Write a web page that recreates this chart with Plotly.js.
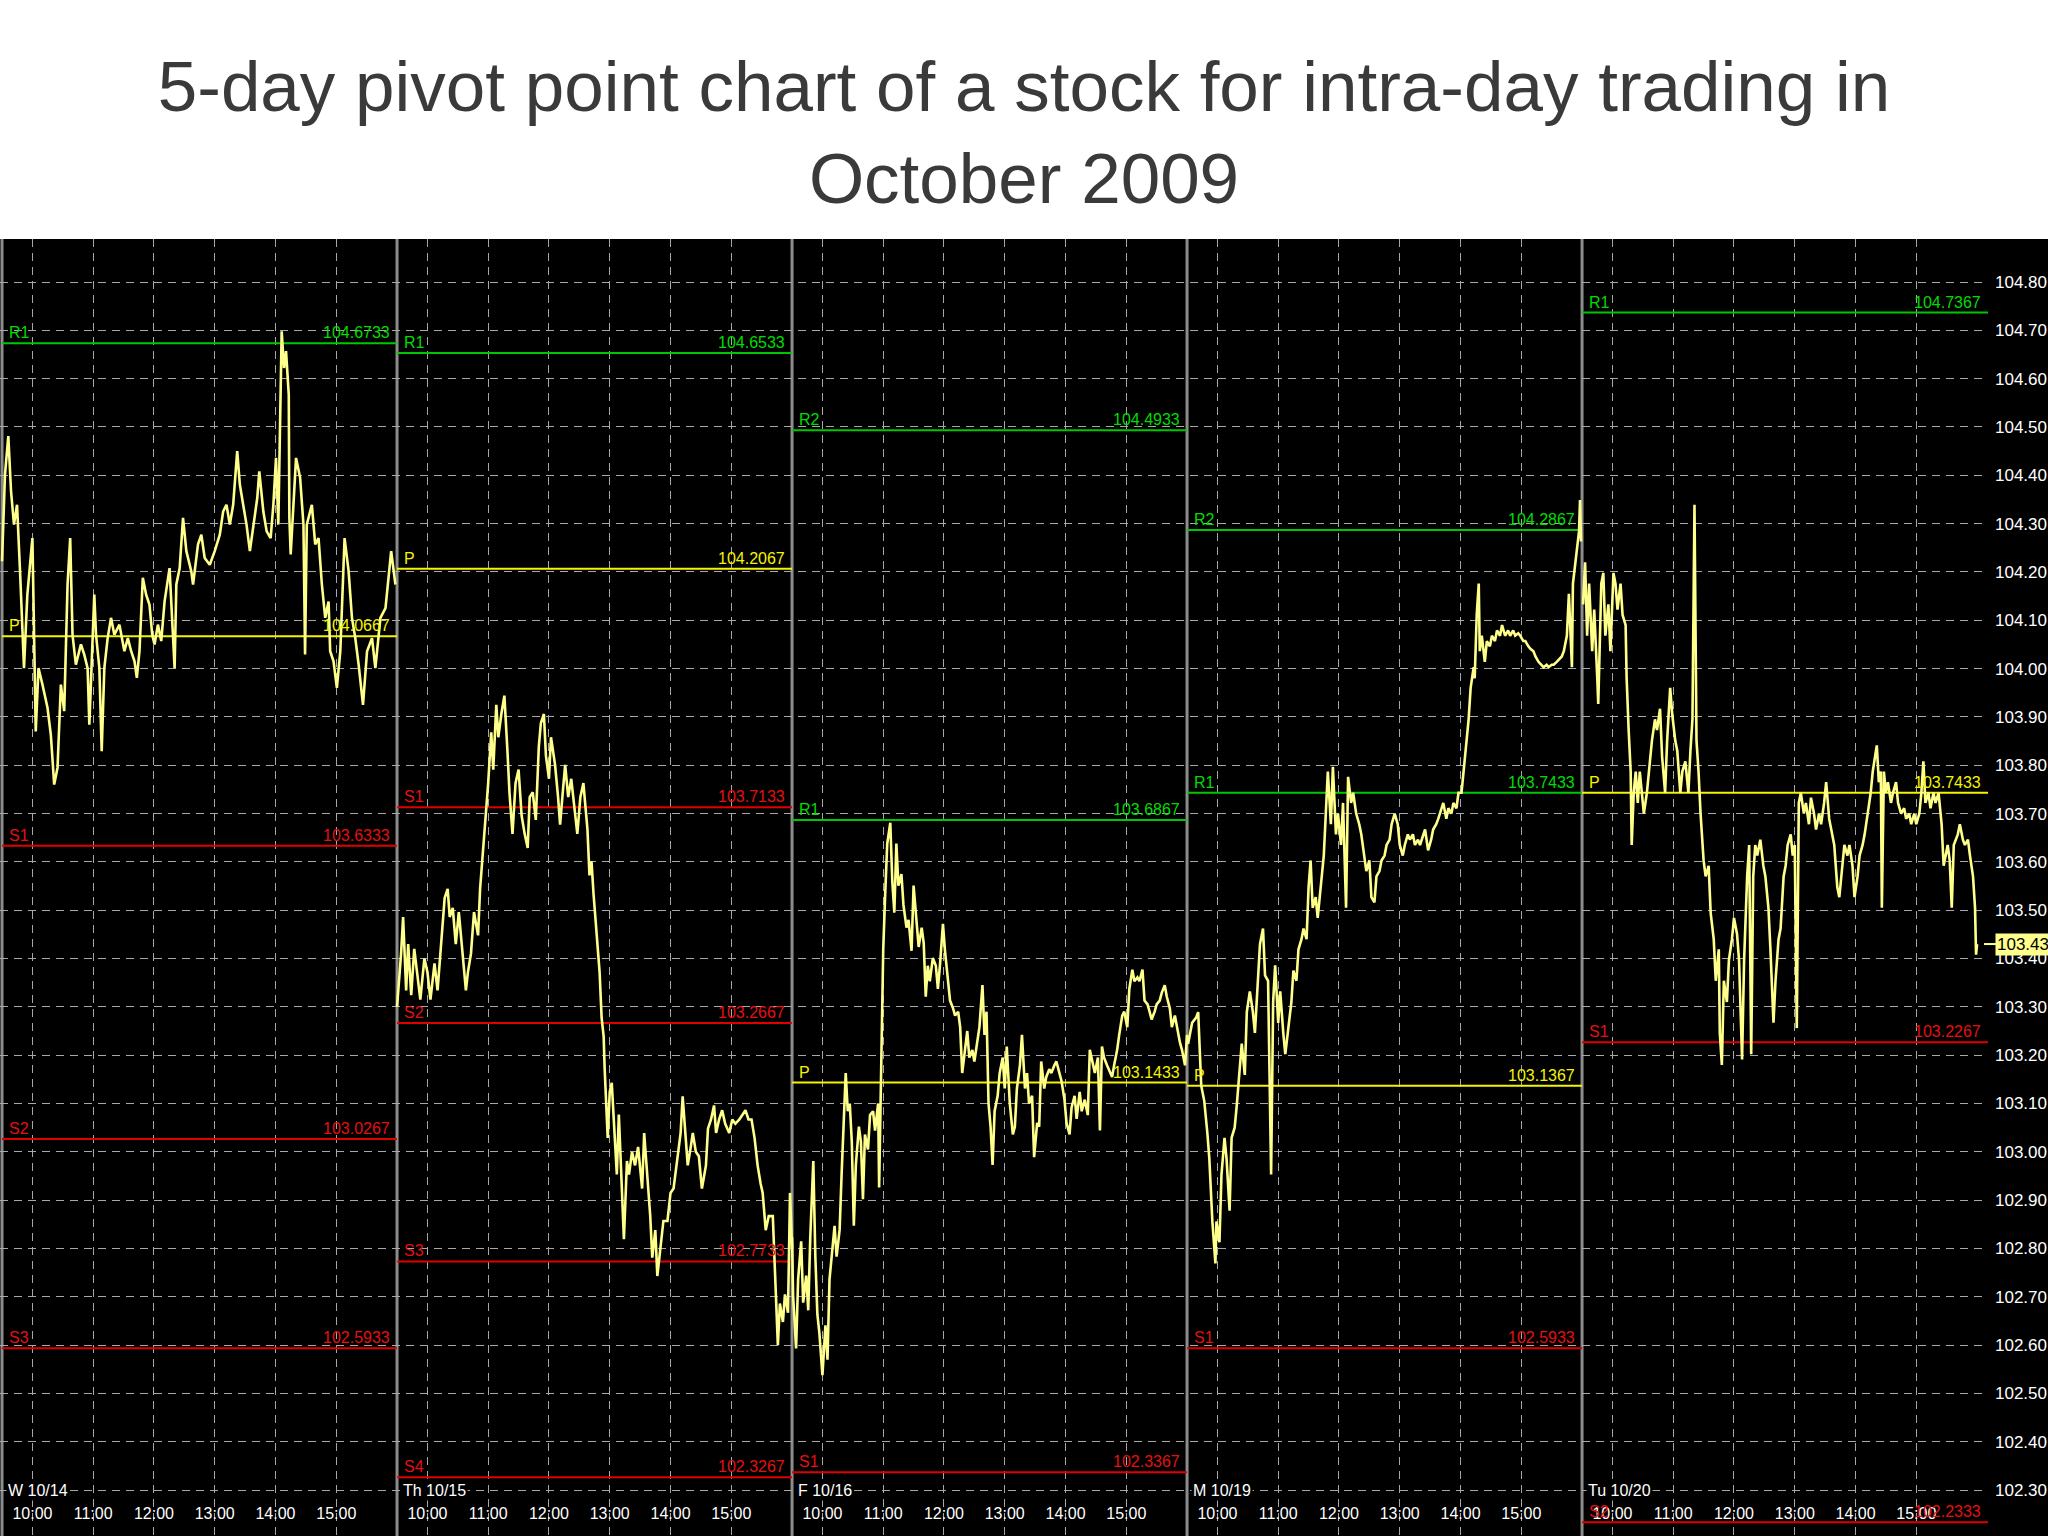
<!DOCTYPE html>
<html>
<head>
<meta charset="utf-8">
<script src="https://cdn.plot.ly/plotly-3.0.1.min.js"></script>
<style>
html,body{margin:0;padding:0;background:#ffffff;}
#chart{width:2048px;height:1536px;}
</style>
</head>
<body>
<div id="chart"></div>
<script>
// ---------------- data ----------------
const chartTitle = '5-day pivot point chart of a stock for intra-day trading in<br>October 2009';
const dayLabels = ['W 10/14', 'Th 10/15', 'F 10/16', 'M 10/19', 'Tu 10/20'];
const sessionMinutes = 390;                       // 9:30 - 16:00
const hourTickMinutes = [30, 90, 150, 210, 270, 330];
const hourTickText = ['10:00', '11:00', '12:00', '13:00', '14:00', '15:00'];

// pivot levels per day
const lv1Name = ['R1', 'P', 'S1', 'S2', 'S3'];
const lv1Val  = [104.6733, 104.0667, 103.6333, 103.0267, 102.5933];
const lv2Name = ['R1', 'P', 'S1', 'S2', 'S3', 'S4'];
const lv2Val  = [104.6533, 104.2067, 103.7133, 103.2667, 102.7733, 102.3267];
const lv3Name = ['R2', 'R1', 'P', 'S1'];
const lv3Val  = [104.4933, 103.6867, 103.1433, 102.3367];
const lv4Name = ['R2', 'R1', 'P', 'S1'];
const lv4Val  = [104.2867, 103.7433, 103.1367, 102.5933];
const lv5Name = ['R1', 'P', 'S1', 'S2'];
const lv5Val  = [104.7367, 103.7433, 103.2267, 102.2333];

// intraday prices: minutes after 9:30 and price
const d1t = [0,2.9,6.2,8.9,11.8,14.8,17.8,21.7,25.0,30.0,
33.3,36.0,39.9,44.9,48.2,51.5,54.8,58.1,61.4,64.7,
67.3,69.6,72.9,77.9,81.2,84.5,86.2,91.1,92.8,96.1,
98.4,101.0,104.3,107.6,110.9,115.9,120.8,124.2,127.5,130.8,
133.1,135.7,139.0,142.3,145.6,148.3,150.6,153.9,157.2,160.5,
165.4,170.4,172.1,175.4,178.7,182.0,186.9,188.6,193.5,196.8,
200.1,205.1,210.0,215.0,218.3,221.6,224.9,228.2,232.2,234.8,
238.1,241.4,244.7,248.0,252.0,254.0,258.0,261.3,265.2,267.9,
270.5,272.8,276.1,278.4,280.4,283.1,283.7,285.0,290.3,294.3,
297.6,299.2,300.9,305.9,309.2,312.5,315.8,319.1,322.4,324.0,
327.3,330.6,334.0,338.2,342.2,345.5,348.8,352.1,356.4,360.4,
365.3,368.6,373.6,378.6,381.8,384.2,388.4];
const d1p = [104.222,104.401,104.481,104.367,104.298,104.339,104.201,104.001,104.153,104.270,
103.870,104.001,103.967,103.919,103.863,103.760,103.795,103.967,103.912,104.174,
104.270,104.070,104.008,104.050,104.029,104.001,103.884,104.153,104.070,104.001,
103.829,104.001,104.063,104.105,104.070,104.091,104.036,104.063,104.036,104.015,
103.981,104.036,104.188,104.153,104.132,104.070,104.050,104.091,104.057,104.139,
104.208,104.001,104.174,104.208,104.312,104.243,104.201,104.174,104.257,104.277,
104.229,104.215,104.243,104.277,104.325,104.339,104.298,104.339,104.450,104.381,
104.339,104.298,104.243,104.298,104.353,104.408,104.325,104.284,104.270,104.339,
104.436,104.298,104.698,104.622,104.657,104.567,104.312,104.236,104.436,104.395,
104.298,104.029,104.298,104.339,104.257,104.270,104.174,104.105,104.139,104.036,
104.015,103.960,104.036,104.270,104.201,104.105,104.063,104.008,103.925,104.036,
104.063,104.001,104.105,104.125,104.188,104.243,104.174];

const d2t = [0,4,6,9,11,14,17,20,23,27,
30,33,37,40,43,47,50,52,55,58,
61,65,68,70,73,76,80,82,85,87,
90,93,95,98,100,103,106,109,111,114,
117,120,123,126,129,131,134,137,140,142,
145,147,150,152,156,159,161,164,166,169,
172,175,178,181,184,186,188,190,192,194,
197,199,200,202,204,205,208,210,212,215,
217,219,222,224,227,229,232,235,238,242,
244,247,250,252,255,257,260,263,267,270,
273,276,280,282,285,287,290,292,295,298,
301,305,307,310,313,315,318,321,324,328,
331,334,338,341,344,347,350,353,356,359,
361,364,367,371,373,376,378,381,383,386,
388,390];
const d2p = [103.30,103.41,103.486,103.334,103.43,103.324,103.42,103.372,103.315,103.40,
103.372,103.315,103.39,103.334,103.41,103.525,103.544,103.486,103.505,103.43,
103.496,103.41,103.334,103.372,103.41,103.496,103.448,103.544,103.62,103.687,
103.763,103.868,103.791,103.925,103.858,103.906,103.944,103.83,103.744,103.658,
103.763,103.791,103.696,103.658,103.629,103.734,103.744,103.687,103.839,103.887,
103.906,103.82,103.772,103.858,103.801,103.734,103.677,103.753,103.801,103.734,
103.772,103.715,103.658,103.734,103.763,103.715,103.667,103.572,103.601,103.534,
103.458,103.41,103.372,103.277,103.239,103.172,103.029,103.124,103.143,103.029,
102.953,103.077,102.905,102.819,102.981,102.953,103.0,102.972,103.01,102.924,
103.039,102.953,102.867,102.781,102.838,102.743,102.80,102.857,102.857,102.915,
102.924,102.972,103.039,103.115,103.029,102.972,103.01,103.039,103.0,102.991,
102.924,102.972,103.048,103.067,103.096,103.039,103.067,103.086,103.058,103.039,
103.067,103.058,103.067,103.077,103.086,103.067,103.067,103.029,102.972,102.934,
102.915,102.838,102.867,102.867,102.762,102.60,102.686,102.648,102.705,102.667,
102.915,102.80];

const d3t = [0,1,4,6,9,11,14,16,18,21,
23,25,27,30,33,35,37,39,42,44,
47,49,51,53,55,57,59,61,63,66,
68,70,72,75,77,80,82,85,86,88,
90,92,94,97,99,101,103,105,108,110,
113,115,118,120,123,125,128,130,132,134,
136,139,142,144,146,149,151,154,156,159,
161,164,166,168,170,173,175,178,180,183,
185,188,190,192,194,196,198,200,203,205,
208,210,212,215,218,220,222,225,227,230,
232,234,237,239,242,244,246,249,251,254,
256,259,261,264,266,269,271,274,276,279,
281,284,286,289,292,294,297,299,302,304,
306,308,311,314,316,318,321,323,326,328,
331,333,336,338,341,343,346,348,351,353,
355,358,360,363,365,368,370,373,375,378,
380,383,385,388,390];
const d3p = [102.823,102.704,102.593,102.736,102.815,102.688,102.744,102.672,102.823,102.981,
102.783,102.664,102.625,102.538,102.641,102.57,102.736,102.783,102.847,102.783,
102.839,102.957,103.06,103.163,103.084,103.1,103.021,102.847,102.973,103.052,
103.021,102.902,103.036,103.005,103.076,103.084,103.044,103.1,102.926,103.226,
103.416,103.535,103.638,103.681,103.559,103.495,103.638,103.551,103.575,103.511,
103.464,103.48,103.416,103.551,103.464,103.424,103.464,103.432,103.321,103.385,
103.353,103.401,103.385,103.337,103.385,103.472,103.416,103.345,103.313,103.297,
103.282,103.29,103.258,103.163,103.195,103.25,103.195,103.211,103.187,103.226,
103.258,103.345,103.242,103.29,103.1,103.052,102.973,103.084,103.116,103.163,
103.195,103.131,103.218,103.1,103.036,103.052,103.131,103.179,103.242,103.131,
103.163,103.1,103.116,102.989,103.06,103.052,103.187,103.131,103.155,103.171,
103.163,103.179,103.187,103.163,103.147,103.108,103.06,103.036,103.092,103.116,
103.068,103.124,103.084,103.108,103.076,103.211,103.179,103.163,103.195,103.044,
103.218,103.195,103.179,103.163,103.155,103.179,103.211,103.242,103.282,103.29,
103.258,103.337,103.377,103.353,103.361,103.353,103.377,103.313,103.305,103.29,
103.274,103.29,103.305,103.313,103.329,103.345,103.321,103.297,103.258,103.282,
103.258,103.226,103.211,103.179,103.242];

const d4t = [1,5,9,11,14,17,20,22,25,28,
29,32,34,37,39,42,44,47,49,52,
54,57,59,62,65,67,70,72,75,77,
80,81,83,85,87,90,92,95,97,100,
103,105,108,110,113,115,118,120,122,124,
127,129,132,135,137,139,142,144,147,149,
152,154,157,159,162,164,167,170,172,175,
177,180,182,185,187,190,192,195,197,200,
202,205,208,210,213,215,218,220,223,225,
228,230,233,235,238,241,243,246,248,251,
253,256,258,261,263,266,268,271,273,275,
278,280,283,284,286,288,289,291,294,296,
299,301,304,306,309,311,314,317,319,322,
324,327,329,332,334,337,339,342,344,347,
350,352,355,357,360,362,365,367,370,372,
375,377,378,380,381,383,385,387,388,389];
const d4p = [103.223,103.267,103.278,103.289,103.137,103.105,103.04,102.986,102.856,102.769,
102.856,102.813,102.953,103.029,102.986,102.878,103.029,103.05,103.094,103.17,
103.224,103.159,103.289,103.332,103.289,103.246,103.354,103.43,103.462,103.365,
103.354,103.224,102.953,103.31,103.386,103.267,103.332,103.246,103.202,103.256,
103.31,103.375,103.354,103.419,103.44,103.462,103.44,103.548,103.603,103.505,
103.527,103.484,103.548,103.613,103.7,103.787,103.678,103.797,103.657,103.7,
103.635,103.722,103.505,103.776,103.722,103.743,103.7,103.678,103.657,103.613,
103.581,103.603,103.527,103.516,103.57,103.581,103.603,103.613,103.635,103.646,
103.678,103.7,103.678,103.635,103.613,103.635,103.657,103.646,103.657,103.635,
103.646,103.635,103.657,103.667,103.624,103.646,103.667,103.678,103.689,103.711,
103.722,103.689,103.711,103.7,103.722,103.711,103.743,103.743,103.787,103.83,
103.895,103.96,104.003,103.98,104.111,104.176,104.036,104.068,104.014,104.057,
104.046,104.068,104.057,104.079,104.068,104.09,104.068,104.079,104.068,104.079,
104.068,104.073,104.068,104.057,104.057,104.046,104.041,104.036,104.025,104.014,
104.008,104.003,104.008,104.003,104.008,104.008,104.014,104.019,104.025,104.036,
104.068,104.155,104.09,104.003,104.176,104.209,104.241,104.284,104.349,104.263];

const d5t = [1,3,5,7,10,12,15,16,19,21,
23,26,28,31,33,35,38,40,43,44,
46,48,49,51,53,55,57,59,61,64,
66,69,72,74,77,79,82,84,87,89,
92,94,97,99,102,105,107,109,111,113,
115,117,120,122,125,127,130,132,135,136,
138,140,143,145,148,150,153,155,158,160,
163,165,167,169,171,173,176,179,181,184,
186,189,191,194,196,199,201,203,206,208,
210,212,214,216,219,221,224,226,229,231,
234,236,239,241,244,247,249,252,254,257,
259,262,264,267,269,272,274,277,279,282,
285,287,290,291,293,295,296,298,300,302,
305,307,310,312,315,318,320,323,325,328,
330,333,335,337,339,342,344,347,349,352,
355,357,359,361,363,365,367,369,371,373,
376,378,381,383,386,388,389,390];
const d5p = [104.133,104.22,104.068,104.176,104.036,104.122,103.981,103.927,104.176,104.198,
104.068,104.133,104.036,104.198,104.176,104.122,104.176,104.111,104.09,103.981,
103.873,103.787,103.635,103.743,103.787,103.722,103.787,103.743,103.7,103.743,
103.787,103.851,103.895,103.873,103.917,103.819,103.743,103.851,103.96,103.906,
103.851,103.83,103.743,103.787,103.808,103.743,103.83,103.895,104.339,103.851,
103.787,103.7,103.603,103.57,103.592,103.494,103.44,103.354,103.419,103.246,
103.18,103.354,103.31,103.397,103.44,103.484,103.451,103.397,103.191,103.397,
103.57,103.635,103.202,103.57,103.635,103.613,103.646,103.592,103.57,103.505,
103.419,103.267,103.354,103.44,103.462,103.57,103.592,103.635,103.657,103.613,
103.635,103.256,103.722,103.743,103.7,103.722,103.678,103.733,103.7,103.667,
103.7,103.678,103.722,103.765,103.689,103.657,103.635,103.548,103.527,103.592,
103.635,103.613,103.635,103.592,103.527,103.57,103.613,103.635,103.657,103.7,
103.743,103.787,103.83,103.841,103.765,103.787,103.505,103.787,103.743,103.765,
103.722,103.743,103.765,103.722,103.7,103.711,103.689,103.7,103.678,103.7,
103.678,103.7,103.743,103.808,103.722,103.743,103.711,103.743,103.722,103.743,
103.678,103.592,103.613,103.635,103.603,103.505,103.635,103.646,103.657,103.678,
103.646,103.635,103.646,103.613,103.57,103.505,103.408,103.43];

// ---------------- styling ----------------
const FONT = 'Liberation Sans, Arial, sans-serif';
const PRICE_COLOR = '#ffff8c';
const GRID_COLOR = '#a8a8a8';
const SEP_COLOR = '#8c8c8c';
const LEVEL_LINE = {R: '#00c800', P: '#f4f400', S: '#e00000'};
const LEVEL_TEXT = {R: '#00dc00', P: '#f4f400', S: '#e41010'};
const X_MIN = -2, X_MAX = 1960.8;
const Y_MIN = 102.205, Y_MAX = 104.889;

const dayTimes = [d1t, d2t, d3t, d4t, d5t];
const dayPrices = [d1p, d2p, d3p, d4p, d5p];
const levelNames = [lv1Name, lv2Name, lv3Name, lv4Name, lv5Name];
const levelVals = [lv1Val, lv2Val, lv3Val, lv4Val, lv5Val];

const traces = [];
const annotations = [];
const shapes = [];

// black backdrop for the right-hand price scale
shapes.push({type: 'rect', xref: 'paper', yref: 'paper', x0: 1, x1: 1.05, y0: 0, y1: 1,
  fillcolor: '#000000', line: {width: 0}, layer: 'below'});

const nDays = dayLabels.length;
const tickVals = [], tickText = [];
for (let d = 0; d < nDays; d++) {
  const start = d * sessionMinutes;
  const end = (d === nDays - 1) ? X_MAX : (d + 1) * sessionMinutes;
  hourTickMinutes.forEach((m, i) => { tickVals.push(start + m); tickText.push(hourTickText[i]); });

  // day separator
  shapes.push({type: 'line', xref: 'x', yref: 'paper', x0: start, x1: start, y0: 0, y1: 1,
    line: {color: SEP_COLOR, width: 3}, layer: 'between'});

  // pivot levels
  levelNames[d].forEach((name, i) => {
    const v = levelVals[d][i];
    const k = name[0];
    traces.push({type: 'scatter', mode: 'lines', x: [start, end], y: [v, v],
      line: {color: LEVEL_LINE[k], width: 2}, hoverinfo: 'skip', showlegend: false});
    annotations.push({x: start, y: v, xref: 'x', yref: 'y', text: name, showarrow: false,
      xanchor: 'left', yanchor: 'bottom', xshift: 5, yshift: 0,
      font: {family: FONT, size: 16, color: LEVEL_TEXT[k]}});
    annotations.push({x: end, y: v, xref: 'x', yref: 'y', text: v.toFixed(4), showarrow: false,
      xanchor: 'right', yanchor: 'bottom', xshift: -5, yshift: 0,
      font: {family: FONT, size: 16, color: LEVEL_TEXT[k]}});
  });

  // day label
  annotations.push({x: start, y: 102.30, xref: 'x', yref: 'y', text: dayLabels[d], showarrow: false,
    xanchor: 'left', yanchor: 'middle', xshift: 4, bgcolor: '#000000',
    font: {family: FONT, size: 16, color: '#ffffff'}});
}

// price traces
for (let d = 0; d < nDays; d++) {
  traces.push({type: 'scatter', mode: 'lines',
    x: dayTimes[d].map(t => t + d * sessionMinutes), y: dayPrices[d],
    line: {color: PRICE_COLOR, width: 2.6}, showlegend: false, name: dayLabels[d]});
}

// last price marker on the scale
const lastPrice = d5p[d5p.length - 1];
annotations.push({xref: 'paper', x: 1, y: lastPrice, yref: 'y', text: lastPrice.toFixed(2),
  showarrow: false, xanchor: 'left', yanchor: 'middle', xshift: 7, bgcolor: '#ffff8c',
  borderpad: 1, font: {family: FONT, size: 17, color: '#000000'}});
shapes.push({type: 'line', xref: 'paper', yref: 'y', x0: 0.998, x1: 1.004, y0: lastPrice, y1: lastPrice,
  line: {color: '#ffff8c', width: 2}, layer: 'above'});

const layout = {
  width: 2048, height: 1536,
  margin: {l: 0, r: 60, t: 239, b: 0, pad: 0},
  paper_bgcolor: '#ffffff',
  plot_bgcolor: '#000000',
  showlegend: false,
  title: {text: chartTitle, xref: 'container', x: 0.5, xanchor: 'center',
    yref: 'container', y: 1 - 111 / 1536, yanchor: 'middle',
    font: {family: FONT, size: 71, color: '#3a3a3a'}},
  xaxis: {range: [X_MIN, X_MAX], tickmode: 'array', tickvals: tickVals, ticktext: tickText,
    showgrid: true, gridcolor: GRID_COLOR, gridwidth: 1, griddash: '8px,6px',
    zeroline: false, showline: false, ticks: '', ticklabelposition: 'inside', ticklabelstandoff: 11,
    tickfont: {family: FONT, size: 16, color: '#ffffff'}, fixedrange: true},
  yaxis: {range: [Y_MIN, Y_MAX], side: 'right', tick0: 102.3, dtick: 0.1, tickformat: '.2f',
    showgrid: true, gridcolor: GRID_COLOR, gridwidth: 1, griddash: '8px,6px',
    zeroline: false, showline: false, ticks: '', ticklabelstandoff: 6,
    tickfont: {family: FONT, size: 17, color: '#ffffff'}, fixedrange: true},
  shapes: shapes,
  annotations: annotations
};

Plotly.newPlot('chart', traces, layout, {displayModeBar: false, staticPlot: true});
</script>
</body>
</html>
